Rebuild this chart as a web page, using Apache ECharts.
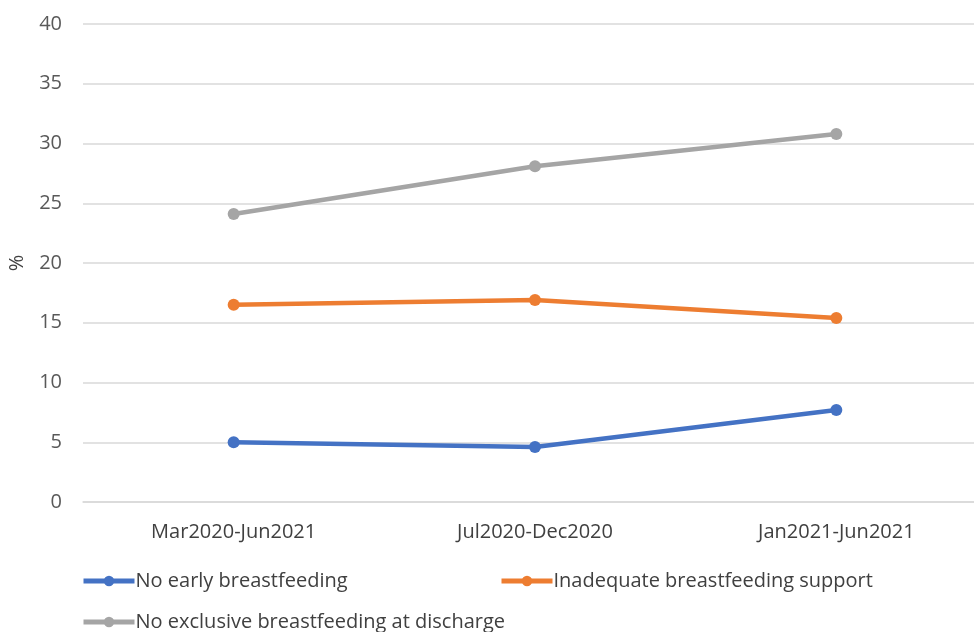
<!DOCTYPE html>
<html>
<head>
<meta charset="utf-8">
<script src="https://cdn.jsdelivr.net/npm/echarts@6/dist/echarts.min.js"></script>
<style>
html, body { margin: 0; padding: 0; background: #fff; }
#main { width: 974px; height: 632px; }
</style>
</head>
<body>
<div id="main"></div>
<script>
var categories = ['Mar2020-Jun2021', 'Jul2020-Dec2020', 'Jan2021-Jun2021'];
var noEarly = [5.0, 4.6, 7.7];
var inadequate = [16.5, 16.9, 15.4];
var noExclusive = [24.1, 28.1, 30.8];
var seriesNames = ['No early breastfeeding', 'Inadequate breastfeeding support', 'No exclusive breastfeeding at discharge'];

var font = '"Open Sans", sans-serif';
var myChart = echarts.init(document.getElementById('main'));

function makeLine(name, data, color) {
    return {
        name: name,
        type: 'line',
        data: data,
        symbol: 'circle',
        symbolSize: 12,
        lineStyle: { width: 4.5, color: color },
        itemStyle: { color: color },
        emphasis: { disabled: true },
        animation: false
    };
}

function makeLegend(name, left, top) {
    return {
        data: [name],
        left: left,
        top: top,
        itemWidth: 51,
        itemHeight: 13,
        itemGap: 0,
        lineStyle: { width: 5 },
        textStyle: { fontFamily: font, fontSize: 20, color: '#404040', padding: [0, 0, 0, -4] }
    };
}

var option = {
    backgroundColor: '#fff',
    color: ['#4472C4', '#ED7D31', '#A5A5A5'],
    grid: {
        left: 83,
        right: -13,
        top: 24,
        bottom: 130,
        outerBoundsMode: 'none'
    },
    legend: [
        makeLegend(seriesNames[0], 76, 566),
        makeLegend(seriesNames[1], 494, 566),
        makeLegend(seriesNames[2], 76, 607)
    ],
    xAxis: {
        type: 'category',
        data: categories,
        boundaryGap: true,
        axisLine: { lineStyle: { color: '#D9D9D9', width: 1.5 } },
        axisTick: { show: false },
        axisLabel: { fontFamily: font, fontSize: 20, color: '#404040', margin: 20 }
    },
    yAxis: {
        type: 'value',
        min: 0,
        max: 40,
        interval: 5,
        name: '%',
        nameLocation: 'middle',
        nameGap: 56,
        nameRotate: 90,
        nameTextStyle: { fontFamily: font, fontSize: 20, color: '#404040' },
        axisLine: { show: false },
        axisTick: { show: false },
        splitLine: { lineStyle: { color: '#D9D9D9', width: 1.5 } },
        axisLabel: { fontFamily: font, fontSize: 20, color: '#595959', margin: 21 }
    },
    series: [
        makeLine(seriesNames[0], noEarly, '#4472C4'),
        makeLine(seriesNames[1], inadequate, '#ED7D31'),
        makeLine(seriesNames[2], noExclusive, '#A5A5A5')
    ]
};
myChart.setOption(option);
</script>
</body>
</html>
